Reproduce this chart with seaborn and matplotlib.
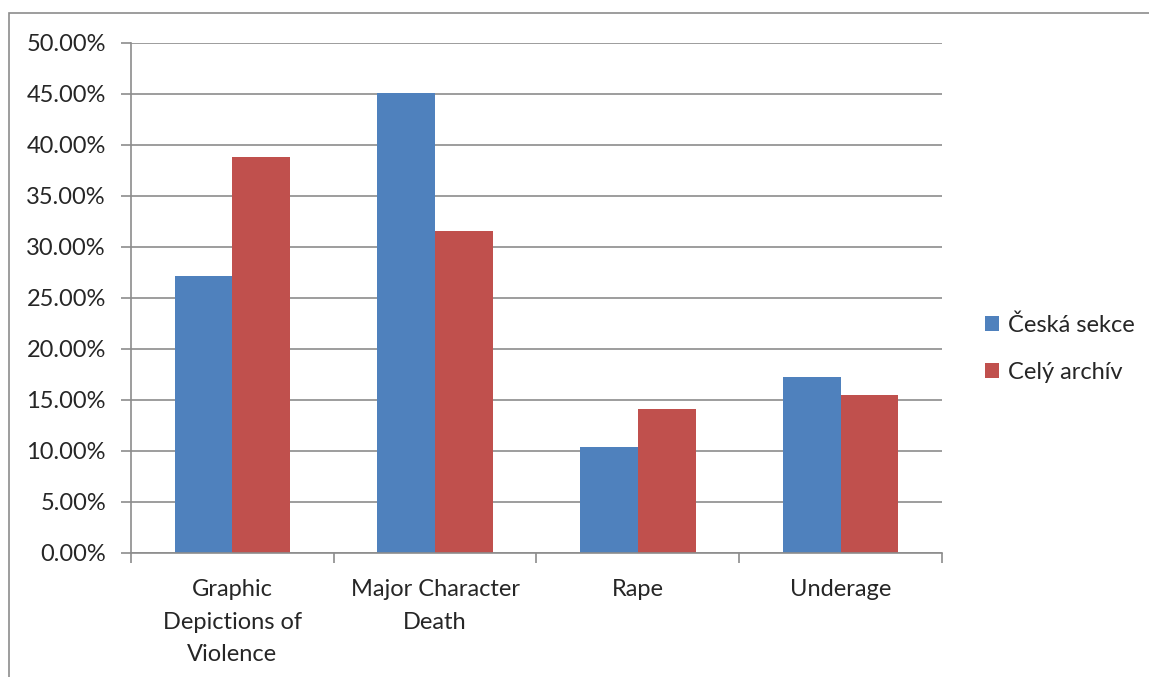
import matplotlib
matplotlib.use("Agg")
import matplotlib.pyplot as plt
import matplotlib.ticker as mticker
from matplotlib.patches import Rectangle
import seaborn as sns
import pandas as pd

categories = ["Graphic\nDepictions of\nViolence", "Major Character\nDeath", "Rape", "Underage"]
series_names = ["Česká sekce", "Celý archív"]
ceska_sekce = [27.15, 45.1, 10.4, 17.25]
cely_archiv = [38.8, 31.55, 14.1, 15.5]
y_ticks = [0, 5, 10, 15, 20, 25, 30, 35, 40, 45, 50]

df = pd.DataFrame({
    "category": categories * 2,
    "series": [series_names[0]] * 4 + [series_names[1]] * 4,
    "value": ceska_sekce + cely_archiv,
})

sns.set_style("white")
plt.rcParams["font.family"] = ["Lato", "DejaVu Sans"]
fs = 17

fig = plt.figure(figsize=(11.49, 6.77), dpi=100)
ax = fig.add_axes([0.114, 0.1832, 0.7058, 0.7533])

sns.barplot(data=df, x="category", y="value", hue="series", ax=ax,
            palette=["#4F81BD", "#C0504D"], width=0.57, saturation=1,
            edgecolor="none", linewidth=0)

ax.set_ylim(0, 50)
ax.set_xlim(-0.5, 3.5)
ax.set_yticks(y_ticks)
ax.yaxis.set_major_formatter(mticker.FuncFormatter(lambda v, p: f"{v:.2f}%"))
ax.yaxis.grid(True, color="#8C8C8C", linewidth=1.2)
ax.set_axisbelow(True)
ax.set_xlabel("")
ax.set_ylabel("")

for s in ["top", "right"]:
    ax.spines[s].set_visible(False)
for s in ["left", "bottom"]:
    ax.spines[s].set_color("#8C8C8C")
    ax.spines[s].set_linewidth(1.2)

ax.tick_params(axis="y", which="major", left=True, length=7, width=1.2,
               color="#8C8C8C", labelsize=fs, pad=11)
ax.tick_params(axis="x", which="major", length=0, labelsize=fs, pad=19)
for lbl in ax.get_xticklabels():
    lbl.set_linespacing(1.68)
ax.set_xticks([-0.5, 0.5, 1.5, 2.5, 3.5], minor=True)
ax.tick_params(axis="x", which="minor", bottom=True, length=7, width=1.2,
               color="#8C8C8C")

ax.legend(loc="center left", bbox_to_anchor=(1.027, 0.4), frameon=False,
          fontsize=fs, handlelength=0.6, handleheight=0.6, handletextpad=0.35,
          labelspacing=1.1)

fig.patches.append(Rectangle((0.0078, -0.01), 1.0, 0.9908, transform=fig.transFigure,
                             fill=False, edgecolor="#8C8C8C", linewidth=1.2))

fig.savefig("out.png", dpi=100, facecolor="white")
